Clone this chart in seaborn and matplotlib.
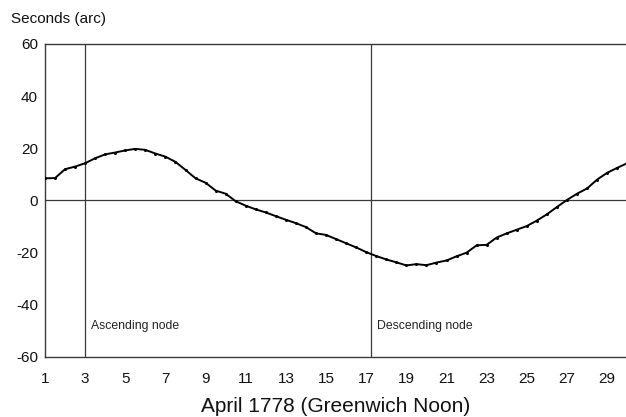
import numpy as np
import pandas as pd
import matplotlib
matplotlib.use("Agg")
import matplotlib.pyplot as plt
import seaborn as sns

# Half-day samples of the deviation, April 1778
days = [1.0, 1.5, 2.0, 2.5, 3.0, 3.5, 4.0, 4.5, 5.0, 5.5, 6.0, 6.5, 7.0, 7.5,
        8.0, 8.5, 9.0, 9.5, 10.0, 10.5, 11.0, 11.5, 12.0, 12.5, 13.0, 13.5,
        14.0, 14.5, 15.0, 15.5, 16.0, 16.5, 17.0, 17.5, 18.0, 18.5, 19.0,
        19.5, 20.0, 20.5, 21.0, 21.5, 22.0, 22.5, 23.0, 23.5, 24.0, 24.5,
        25.0, 25.5, 26.0, 26.5, 27.0, 27.5, 28.0, 28.5, 29.0, 29.5, 30.0]
seconds = [8.5, 8.6, 12.0, 13.0, 14.3, 16.2, 17.7, 18.4, 19.2, 19.8, 19.4,
           18.0, 16.8, 14.8, 11.7, 8.5, 6.8, 3.8, 2.6, -0.3, -2.0, -3.4, -4.6,
           -6.0, -7.4, -8.7, -10.2, -12.6, -13.2, -14.8, -16.4, -18.0, -19.8,
           -21.3, -22.6, -23.7, -24.9, -24.4, -24.8, -23.8, -23.0, -21.4,
           -20.0, -17.2, -17.0, -14.2, -12.6, -11.2, -9.8, -7.7, -5.3, -2.5,
           0.2, 2.6, 4.6, 8.0, 10.6, 12.5, 14.3]

node_days = [3.0, 17.25]
node_labels = ["Ascending node", "Descending node"]
x_ticks = [1, 3, 5, 7, 9, 11, 13, 15, 17, 19, 21, 23, 25, 27, 29]
y_ticks = [-60, -40, -20, 0, 20, 40, 60]

sns.set_theme(style="white")
plt.rcParams['font.family'] = ['Liberation Sans', 'DejaVu Sans']
plt.rcParams['axes.unicode_minus'] = False

df = pd.DataFrame({"day": days, "seconds": seconds})

fig = plt.figure(figsize=(6.26, 4.17), dpi=100)
ax = fig.add_axes([0.0719, 0.1439, 0.93, 0.7506])

frame_col = "#3a3a3a"
ax.axhline(0, color=frame_col, lw=0.9, zorder=1)
for d, lab in zip(node_days, node_labels):
    ax.axvline(d, color=frame_col, lw=0.9, zorder=1)
    ax.text(d + 0.3, -48, lab, fontsize=8.8, color="#222222", va="center", ha="left")

sns.lineplot(data=df, x="day", y="seconds", ax=ax, color="black", lw=1.4,
             marker="o", markersize=2.2, markeredgewidth=0, zorder=3)

ax.set_xlim(1, 30.0)
ax.set_ylim(-60, 60)
ax.set_xticks(x_ticks)
ax.set_yticks(y_ticks)
ax.tick_params(axis="both", direction="in", length=4, width=0.8, color=frame_col,
               labelsize=11, labelcolor="#111111", pad=5)
ax.tick_params(axis="x", pad=11)
for side in ["left", "top", "bottom"]:
    ax.spines[side].set_color(frame_col)
    ax.spines[side].set_linewidth(1.0)
ax.spines["right"].set_visible(False)

ax.set_ylabel("")
ax.set_xlabel("April 1778 (Greenwich Noon)", fontsize=15, color="#111111", labelpad=7.5)
fig.text(0.018, 0.955, "Seconds (arc)", fontsize=11, color="#111111", va="center", ha="left")

fig.savefig("out.png", dpi=100)
